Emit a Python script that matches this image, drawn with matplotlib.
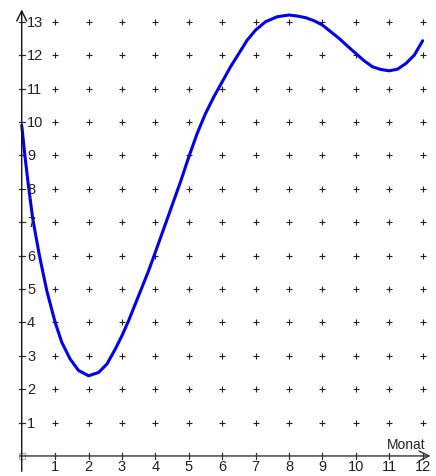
import numpy as np
import matplotlib.pyplot as plt

plt.rcParams['font.family'] = ['Liberation Sans', 'DejaVu Sans']

# curve values
monat = [0, 0.1, 0.2, 0.33, 0.53, 0.75, 1.0, 1.2, 1.45, 1.7, 2.0, 2.3, 2.55,
         2.8, 3.0, 3.2, 3.4, 3.6, 3.8, 4.0, 4.25, 4.5, 4.75, 5.0, 5.25, 5.5,
         5.75, 6.0, 6.25, 6.5, 6.75, 7.0, 7.3, 7.65, 8.0, 8.25, 8.5, 8.75,
         9.0, 9.25, 9.5, 9.75, 10.0, 10.25, 10.5, 10.75, 11.0, 11.25, 11.5,
         11.75, 12.0]
wert = [9.9, 8.95, 8.1, 7.1, 6.0, 4.95, 4.0, 3.4, 2.9, 2.56, 2.4, 2.5, 2.75,
        3.2, 3.6, 4.05, 4.55, 5.05, 5.55, 6.1, 6.8, 7.5, 8.2, 8.95, 9.65, 10.25,
        10.75, 11.2, 11.65, 12.05, 12.45, 12.75, 13.0, 13.15, 13.2, 13.17, 13.12, 13.03,
        12.9, 12.7, 12.5, 12.27, 12.05, 11.83, 11.65, 11.57, 11.53, 11.58, 11.75,
        12.0, 12.43]

xticks = list(range(1, 13))
yticks = list(range(1, 14))
xlabel = 'Monat'

fig = plt.figure(figsize=(4.36, 4.77), dpi=100)
ax = fig.add_axes([0, 0, 1, 1])
ax.set_xlim(-0.65, 12.4)
ax.set_ylim(-0.6, 13.68)
ax.axis('off')

# grid of little crosses
gx, gy = np.meshgrid(xticks, yticks)
ax.plot(gx.ravel(), gy.ravel(), ls='none', marker='+', ms=4.5, mew=0.8, color='#222222')

# axes with open arrow heads
ax.annotate('', xy=(12.32, 0), xytext=(-0.14, 0),
            arrowprops=dict(arrowstyle='->', color='#333333', lw=1.0, mutation_scale=18))
ax.annotate('', xy=(0, 13.45), xytext=(0, -0.54),
            arrowprops=dict(arrowstyle='->', color='#111111', lw=1.0, mutation_scale=18))
ax.plot([0], [0], ls='none', marker='s', ms=4, mfc='none', mec='#aaaaaa', mew=0.8)

# tick marks and labels
for t in xticks:
    ax.plot([t, t], [-0.09, 0.09], color='#333333', lw=0.9)
    ax.text(t, -0.3, str(t), ha='center', va='center', fontsize=10.5, color='#222222')
for t in yticks:
    ax.plot([-0.09, 0.09], [t, t], color='#333333', lw=0.9)
    ax.text(0.16, t, str(t), ha='left', va='center', fontsize=10.5, color='#222222')
ax.text(12.08, 0.35, xlabel, ha='right', va='center', fontsize=10, color='#222222')

ax.plot(monat, wert, color='#0000ee', lw=2.2, solid_capstyle='round', solid_joinstyle='round')

fig.savefig('out.png', dpi=100)
